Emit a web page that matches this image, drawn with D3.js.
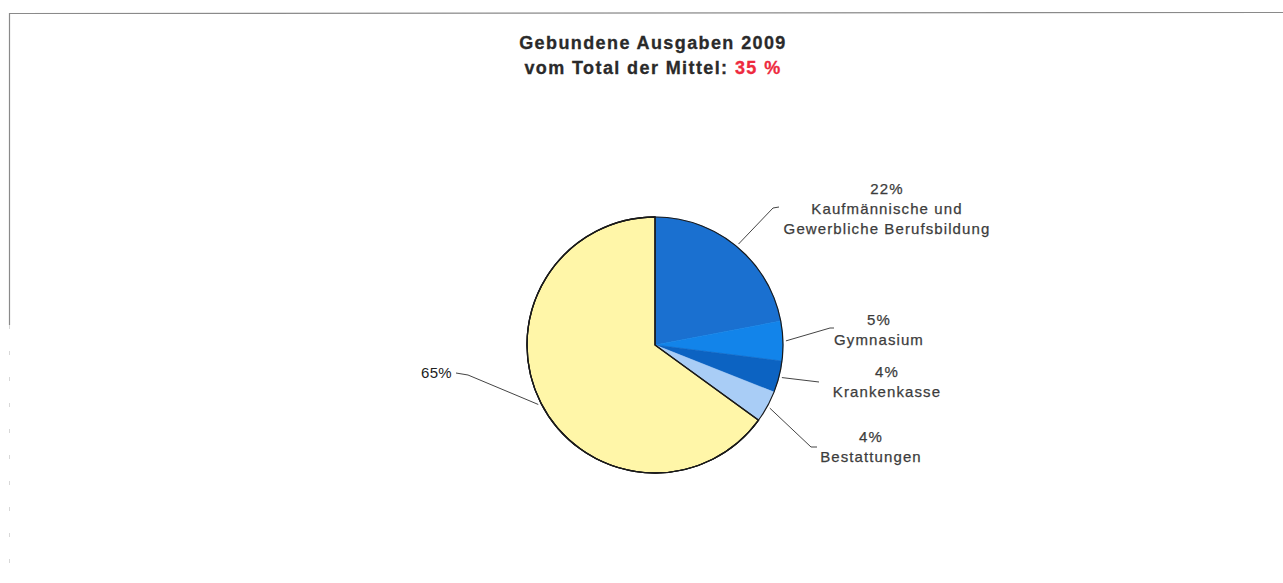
<!DOCTYPE html>
<html><head><meta charset="utf-8">
<script src="https://cdn.jsdelivr.net/npm/d3@7"></script>
<style>body{margin:0;background:#fff}svg{display:block}</style>
</head><body>
<svg id="c" width="1283" height="583"></svg>
<script>
const categories = ["Kaufmännische und Gewerbliche Berufsbildung","Gymnasium","Krankenkasse","Bestattungen","Übrige"];
const values = [22,5,4,4,65];
const labelLines = [["22%","Kaufmännische und","Gewerbliche Berufsbildung"],["5%","Gymnasium"],["4%","Krankenkasse"],["4%","Bestattungen"],["65%"]];
const titleLine1 = "Gebundene Ausgaben 2009";
const titleLine2 = "vom Total der Mittel: ";
const titleValue = "35 %";

const colors = ["#1a70d0","#1284ea","#0c63c2","#a9cdf6","#fff6a8"];
const cx = 655, cy = 345, R = 128;
// label layout: anchor x, first baseline, elbow, end of leader
const layout = [
  {x:887, y:194, anchor:"middle", elbow:[773,208], end:[779,207]},
  {x:879, y:325, anchor:"middle", elbow:[830,328], end:[834,328]},
  {x:887, y:377, anchor:"middle", elbow:[819,382], end:[819,382]},
  {x:871, y:442, anchor:"middle", elbow:[811,447], end:[817,447]},
  {x:452, y:378, anchor:"end", elbow:[468,375], end:[456,373]}
];

const svg = d3.select("#c");
// frame
svg.append("line").attr("x1",9).attr("y1",13.5).attr("x2",1283).attr("y2",12.5).attr("stroke","#8a8a8a").attr("stroke-width",1.2);
svg.append("line").attr("x1",9.5).attr("y1",13).attr("x2",9.5).attr("y2",325).attr("stroke","#8a8a8a").attr("stroke-width",1.2);
svg.append("line").attr("x1",9.5).attr("y1",325).attr("x2",9.5).attr("y2",583).attr("stroke","#d8d8d8").attr("stroke-width",1).attr("stroke-dasharray","4 22");

// title
const t = svg.append("text").attr("x",653).attr("text-anchor","middle")
  .attr("font-family","'Liberation Sans', Arial, sans-serif").attr("font-weight","bold")
  .attr("font-size",18).attr("letter-spacing",1.4).attr("fill","#2a2a2a")
  .attr("stroke","#2a2a2a").attr("stroke-width",0.3);
t.append("tspan").attr("x",653).attr("y",49).text(titleLine1);
const t2 = t.append("tspan").attr("x",653).attr("y",74);
t2.append("tspan").text(titleLine2);
t2.append("tspan").attr("fill","#ee2a3e").attr("stroke","#ee2a3e").text(titleValue);

const pie = d3.pie().sort(null).value(d=>d)(values);
const arc = d3.arc().innerRadius(0).outerRadius(R);
const g = svg.append("g").attr("transform",`translate(${cx},${cy})`);
g.selectAll("path.s").data(pie).join("path").attr("class","s")
  .attr("d",arc).attr("fill",(d,i)=>colors[i])
  .attr("stroke",(d,i)=> i===4 ? "#1a1a1a" : colors[i]).attr("stroke-width",(d,i)=> i===4?1.3:0.6)
  .attr("stroke-linejoin","round");
// outline
g.append("circle").attr("r",R).attr("fill","none").attr("stroke","#1a1a1a").attr("stroke-width",1.2);
// redraw yellow edges on top
g.append("path").datum(pie[4]).attr("d",arc).attr("fill","none").attr("stroke","#1a1a1a").attr("stroke-width",1.3);

// leaders
const leadArc = d3.arc().innerRadius(R+3).outerRadius(R+3);
pie.forEach((d,i)=>{
  const L = layout[i];
  const c = leadArc.centroid(d);
  const s = [cx + c[0], cy + c[1]];
  svg.append("path").attr("d",d3.line()([s, L.elbow, L.end]))
    .attr("fill","none").attr("stroke","#444").attr("stroke-width",1);
  const tx = svg.append("text").attr("text-anchor",L.anchor)
    .attr("font-family","'Liberation Sans', Arial, sans-serif").attr("font-size",15)
    .attr("letter-spacing", i===4?0.3:1.1).attr("fill", i===4?"#222":"#3c3c3c")
    .attr("stroke", i===4?"none":"#3c3c3c").attr("stroke-width",0.25);
  labelLines[i].forEach((ln,j)=>{
    tx.append("tspan").attr("x",L.x).attr("y",L.y + j*20).text(ln);
  });
});
</script>
</body></html>
